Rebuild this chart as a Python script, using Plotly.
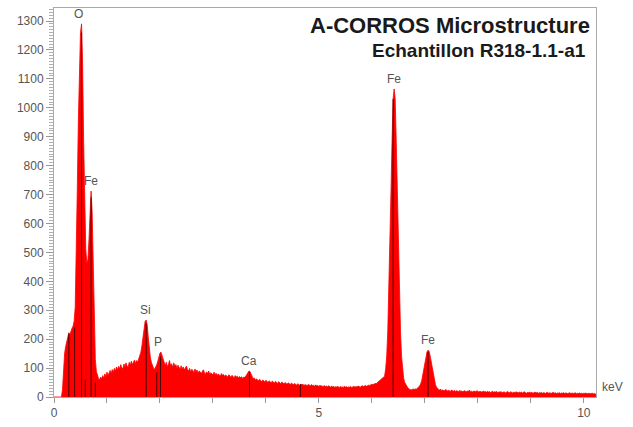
import numpy as np
import plotly.graph_objects as go

# EDS spectrum: counts per 0.02 keV channel, starting at 0 keV
CHANNEL_KEV = 0.02
counts = [
    0, 0, 0, 0, 0, 0, 0, 0, 25, 95, 150, 175, 190, 205, 222, 215, 232, 238, 245, 262,
    310, 470, 720, 960, 1150, 1260, 1290, 1150, 880, 640, 510, 462, 475, 545, 650, 712, 640, 430, 240, 130,
    88, 70, 64, 60, 69, 63, 74, 65, 80, 70, 86, 74, 84, 92, 81, 95, 86, 99, 90, 104,
    94, 106, 97, 112, 100, 98, 114, 104, 118, 106, 103, 120, 110, 124, 112, 118, 128, 115, 126, 121,
    132, 140, 155, 178, 212, 245, 262, 266, 248, 205, 165, 135, 118, 104, 99, 96, 103, 112, 124, 140,
    152, 155, 143, 128, 116, 108, 120, 104, 113, 126, 108, 115, 102, 118, 106, 112, 99, 110, 103, 96,
    108, 98, 104, 93, 101, 107, 95, 90, 99, 86, 96, 92, 84, 97, 88, 93, 82, 90, 87, 80,
    89, 94, 83, 79, 87, 81, 90, 77, 84, 80, 76, 86, 78, 82, 74, 80, 77, 72, 81, 75,
    78, 71, 76, 73, 69, 77, 72, 68, 75, 70, 66, 74, 69, 72, 65, 71, 67, 70, 64, 69,
    68, 72, 78, 85, 90, 88, 80, 70, 63, 66, 58, 63, 60, 55, 61, 57, 53, 59, 55, 52,
    58, 54, 50, 56, 52, 49, 55, 51, 48, 54, 50, 47, 53, 49, 46, 52, 48, 45, 50, 47,
    44, 49, 46, 43, 48, 45, 42, 47, 44, 41, 46, 43, 40, 45, 42, 44, 40, 43, 41, 39,
    44, 40, 38, 43, 39, 41, 37, 42, 38, 40, 36, 41, 37, 39, 35, 40, 36, 38, 35, 39,
    36, 34, 38, 35, 37, 33, 36, 34, 37, 32, 36, 34, 35, 33, 37, 34, 36, 33, 35, 34,
    36, 33, 35, 37, 34, 36, 35, 38, 36, 34, 37, 39, 36, 38, 40, 37, 39, 41, 40, 42,
    44, 42, 45, 47, 46, 49, 52, 55, 58, 61, 63, 66, 72, 98, 142, 228, 358, 518, 706, 880,
    1030, 1065, 1030, 880, 705, 515, 355, 228, 140, 92, 64, 50, 42, 36, 31, 28, 25, 24, 26, 28,
    26, 28, 27, 30, 33, 38, 45, 56, 76, 100, 122, 144, 156, 162, 158, 142, 122, 98, 76, 56,
    42, 34, 29, 26, 24, 27, 22, 25, 21, 24, 26, 20, 23, 22, 19, 24, 21, 20, 23, 19,
    22, 20, 18, 23, 19, 21, 17, 22, 20, 18, 21, 19, 24, 18, 20, 17, 21, 19, 18, 22,
    19, 17, 20, 18, 16, 21, 18, 19, 16, 20, 17, 19, 15, 18, 20, 16, 18, 17, 19, 15,
    18, 16, 19, 15, 17, 18, 14, 17, 19, 16, 15, 18, 16, 14, 17, 15, 18, 16, 14, 17,
    15, 17, 14, 16, 18, 15, 13, 16, 15, 17, 14, 16, 13, 15, 17, 14, 16, 13, 15, 14,
    16, 13, 15, 14, 12, 16, 14, 13, 15, 12, 14, 16, 13, 15, 12, 14, 13, 15, 12, 14,
    13, 15, 12, 14, 13, 11, 15, 13, 12, 14, 12, 13, 15, 11, 13, 12, 14, 12, 13, 11,
    13, 12, 14, 11, 12, 13, 11, 12, 13, 11, 12, 10, 11,
]
energy = np.round(np.arange(len(counts)) * CHANNEL_KEV, 2)

# Identified line markers (energy in keV, marker height in counts)
line_kev = [0.28, 0.39, 0.52, 0.59, 0.70, 0.78, 1.74, 1.94, 2.01, 3.69, 4.65, 6.40, 7.06]
line_height = [220, 240, 1260, 60, 690, 50, 255, 85, 140, 86, 45, 1030, 155]

# Peak labels
label_text = ["O", "Fe", "Si", "P", "Ca", "Fe", "Fe"]
label_kev = [0.46, 0.69, 1.73, 1.97, 3.68, 6.41, 7.06]
label_peak = [1290, 712, 266, 155, 90, 1065, 162]

FONT = "Liberation Sans, Arial, sans-serif"

fig = go.Figure()
fig.add_trace(go.Scatter(
    x=energy, y=counts, mode="lines", fill="tozeroy",
    line=dict(color="#ff0000", width=0.8),
    fillcolor="#ff0000", hoverinfo="skip", showlegend=False,
))

lx, ly = [], []
for e, h in zip(line_kev, line_height):
    lx += [e, e, None]
    ly += [0, h, None]
fig.add_trace(go.Scatter(
    x=lx, y=ly, mode="lines", line=dict(color="rgba(40,0,0,0.85)", width=1),
    hoverinfo="skip", showlegend=False,
))

annotations = []
for t, e, p in zip(label_text, label_kev, label_peak):
    annotations.append(dict(
        x=e, y=p, xref="x", yref="y", text=t, showarrow=False,
        yanchor="bottom", xanchor="center", yshift=1,
        font=dict(family=FONT, size=12, color="#555555"),
    ))

annotations += [
    dict(text="<b>A-CORROS Microstructure</b>", x=(592 - 54) / 542, y=(405 - 25) / 398,
         xref="paper", yref="paper", xanchor="right", yanchor="middle", showarrow=False,
         font=dict(family=FONT, size=22, color="#1a1a1a")),
    dict(text="<b>Echantillon R318-1.1-a1</b>", x=(588 - 54) / 542, y=(405 - 50) / 398,
         xref="paper", yref="paper", xanchor="right", yanchor="middle", showarrow=False,
         font=dict(family=FONT, size=19, color="#1a1a1a")),
    dict(text="keV", x=1.0, y=0.0, xref="paper", yref="paper", xanchor="left",
         yanchor="bottom", xshift=4, yshift=1, showarrow=False,
         font=dict(family=FONT, size=12, color="#555555")),
]

fig.update_layout(
    width=633, height=427,
    margin=dict(l=54, r=37, t=7, b=22, pad=0),
    paper_bgcolor="white", plot_bgcolor="white",
    annotations=annotations,
    font=dict(family=FONT, size=12, color="#555555"),
)
fig.update_xaxes(
    range=[0, 10.23], dtick=5, tick0=0, ticks="outside", ticklen=5,
    tickcolor="#999999", showgrid=False, zeroline=False,
    showline=True, linecolor="#aaaaaa", linewidth=1, mirror=True,
    minor=dict(dtick=1, ticks="outside", ticklen=5, tickcolor="#999999", showgrid=False),
    tickfont=dict(family=FONT, size=12, color="#555555"),
)
fig.update_yaxes(
    range=[0, 1345], dtick=100, tick0=0, ticks="outside", ticklen=7,
    tickcolor="#999999", showgrid=False, zeroline=False,
    showline=True, linecolor="#aaaaaa", linewidth=1, mirror=True,
    minor=dict(dtick=10, ticks="outside", ticklen=4, tickcolor="#b0b0b0", showgrid=False),
    tickfont=dict(family=FONT, size=12, color="#555555"),
)

fig.write_html("out.html")
